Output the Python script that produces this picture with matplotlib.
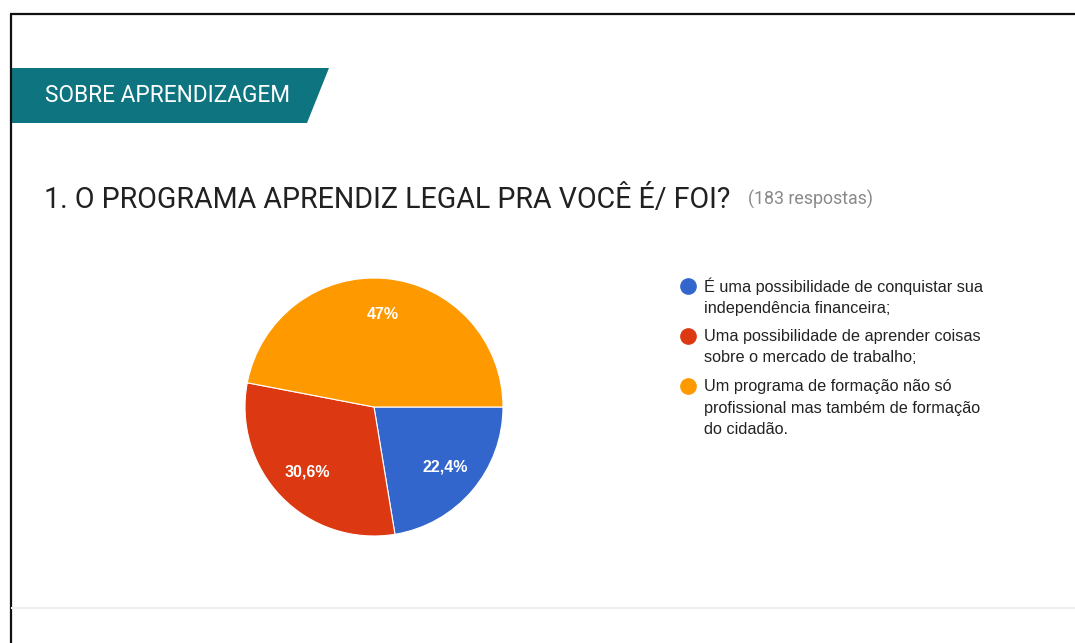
import matplotlib
matplotlib.use('Agg')
import matplotlib.pyplot as plt
from matplotlib.patches import Polygon

# dados (183 respostas)
labels = [
    'É uma possibilidade de conquistar sua\nindependência financeira;',
    'Uma possibilidade de aprender coisas\nsobre o mercado de trabalho;',
    'Um programa de formação não só\nprofissional mas também de formação\ndo cidadão.',
]
counts = [41, 56, 86]
colors = ['#3366cc', '#dc3912', '#ff9900']
section_title = 'SOBRE APRENDIZAGEM'
question = '1. O PROGRAMA APRENDIZ LEGAL PRA VOCÊ É/ FOI?'
n_resp = '(183 respostas)'

W, H = 1075, 643
fig = plt.figure(figsize=(W / 100, H / 100), dpi=100)

# camada de fundo em pixels
bg = fig.add_axes([0, 0, 1, 1])
bg.set_xlim(0, W)
bg.set_ylim(H, 0)
bg.axis('off')

# moldura
bg.plot([10, W], [14, 14], color='#111111', lw=1.6, solid_capstyle='butt')
bg.plot([10.5, 10.5], [14, H], color='#111111', lw=1.6, solid_capstyle='butt')
bg.plot([12, W], [608, 608], color='#eeeeee', lw=1.5)

# faixa do titulo da secao
bg.add_patch(Polygon([[11, 68], [329, 68], [307, 123], [11, 123]],
                     closed=True, color='#0e7480', lw=0))
bg.text(45, 102, section_title, color='white', fontsize=16.3,
        family='Roboto', va='baseline', ha='left')

# pergunta
bg.text(44, 208, question, color='#212121', fontsize=20.6,
        family='Roboto', va='baseline', ha='left')
bg.text(748, 205, n_resp, color='#8a8a8a', fontsize=12.8,
        family='Roboto', va='baseline', ha='left')

# legenda
y = 286
for lab, col in zip(labels, colors):
    bg.plot(688, y, marker='o', ms=11, color=col, mec=col)
    lines = lab.split('\n')
    for i, ln in enumerate(lines):
        bg.text(704, y + i * 22, ln, color='#222222', fontsize=11.7,
                family='Liberation Sans', va='center', ha='left')
    y += len(lines) * 22 + 6

# pizza
cx, cy, r = 374, 407, 129
ax = fig.add_axes([(cx - r) / W, (H - cy - r) / H, 2 * r / W, 2 * r / H])


def fmt(p):
    s = f'{p:.1f}'.rstrip('0').rstrip('.')
    return s.replace('.', ',') + '%'


wedges, texts, autotexts = ax.pie(
    counts, colors=colors, startangle=0, counterclock=False,
    autopct=fmt, pctdistance=0.72,
    wedgeprops=dict(edgecolor='white', linewidth=0.8),
    textprops=dict(color='white', fontsize=11.5, fontweight='bold',
                   family='Liberation Sans'))
ax.set_xlim(-1, 1)
ax.set_ylim(-1, 1)
ax.set_aspect('equal')

fig.savefig('out.png', dpi=100)
